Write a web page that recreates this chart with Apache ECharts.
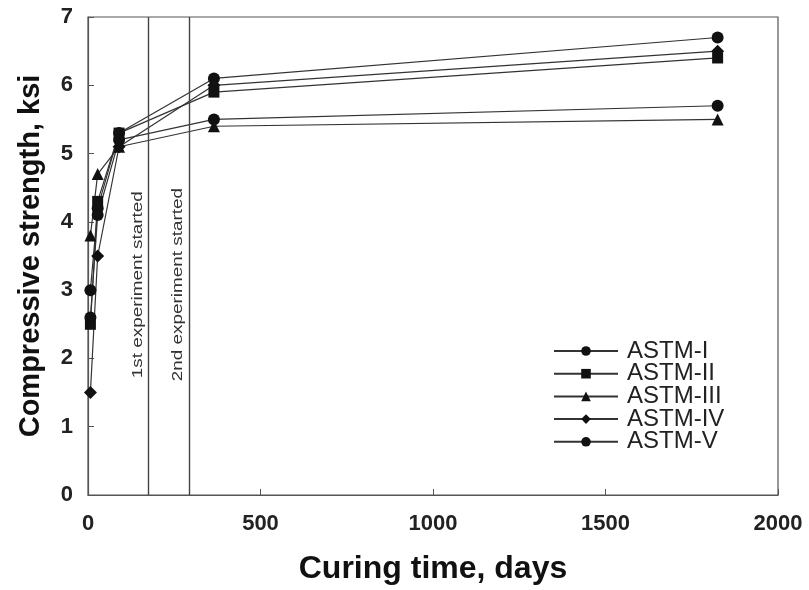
<!DOCTYPE html>
<html>
<head>
<meta charset="utf-8">
<script src="https://cdn.jsdelivr.net/npm/echarts@6/dist/echarts.min.js"></script>
<style>
html,body{margin:0;padding:0;background:#fff;}
#chart{width:809px;height:590px;}
</style>
</head>
<body>
<div id="chart"></div>
<script>
// Curing ages (days) and compressive strength (ksi) per cement type
var days = [7, 28, 90, 365, 1825];
var astmI   = [3.0, 4.2, 5.3, 6.1, 6.7];
var astmII  = [2.5, 4.3, 5.3, 5.9, 6.4];
var astmIII = [3.8, 4.7, 5.1, 5.4, 5.5];
var astmIV  = [1.5, 3.5, 5.1, 6.0, 6.5];
var astmV   = [2.6, 4.1, 5.2, 5.5, 5.7];
var seriesNames = ['ASTM-I', 'ASTM-II', 'ASTM-III', 'ASTM-IV', 'ASTM-V'];
var seriesValues = [astmI, astmII, astmIII, astmIV, astmV];
var seriesSymbols = ['circle', 'rect', 'triangle', 'diamond', 'circle'];
var seriesSizes = [12, 11, 12, 13, 12];

// Experiment start markers (days)
var experimentDays = [176, 293];
var experimentLabels = ['1st experiment started', '2nd experiment started'];

var chart = echarts.init(document.getElementById('chart'));

var series = seriesNames.map(function (name, i) {
  return {
    name: name,
    type: 'line',
    data: days.map(function (d, j) { return [d, seriesValues[i][j]]; }),
    symbol: seriesSymbols[i],
    symbolSize: seriesSizes[i],
    itemStyle: { color: '#111' },
    lineStyle: { color: '#333', width: 1.2 },
    z: 3
  };
});

series.push({
  type: 'line',
  data: [],
  silent: true,
  markLine: {
    symbol: 'none',
    silent: true,
    lineStyle: { color: '#444', width: 1.4, type: 'solid' },
    label: { show: false },
    data: experimentDays.map(function (d) { return { xAxis: d }; })
  }
});

var tickFont = { fontFamily: 'Liberation Sans', fontWeight: 'bold', fontSize: 22, color: '#222' };

chart.setOption({
  animation: false,
  backgroundColor: '#fff',
  grid: {
    left: 88, right: 31, top: 17, bottom: 93,
    show: true, borderColor: '#555', borderWidth: 1.2, backgroundColor: 'transparent'
  },
  xAxis: {
    type: 'value', min: 0, max: 2000, interval: 500,
    name: 'Curing time, days', nameLocation: 'middle', nameGap: 58,
    nameTextStyle: { fontFamily: 'Liberation Sans', fontWeight: 'bold', fontSize: 32, color: '#111' },
    axisLine: { show: true, onZero: false, lineStyle: { color: '#555', width: 1.2 } },
    axisTick: { show: true, inside: true, length: 6, lineStyle: { color: '#555' } },
    axisLabel: Object.assign({ margin: 18, formatter: function (v) { return String(v); } }, tickFont),
    splitLine: { show: false }
  },
  yAxis: {
    type: 'value', min: 0, max: 7, interval: 1,
    name: 'Compressive strength, ksi', nameLocation: 'middle', nameGap: 43,
    nameTextStyle: { fontFamily: 'Liberation Sans', fontWeight: 'bold', fontSize: 29, color: '#111' },
    axisLine: { show: true, lineStyle: { color: '#555', width: 1.2 } },
    axisTick: { show: true, inside: true, length: 6, lineStyle: { color: '#555' } },
    axisLabel: Object.assign({ margin: 15 }, tickFont),
    splitLine: { show: false }
  },
  legend: {
    orient: 'vertical',
    left: 548, top: 334,
    itemWidth: 64, itemHeight: 12, itemGap: -1.3,
    textStyle: { fontFamily: 'Liberation Sans', fontSize: 24, lineHeight: 22.5, color: '#222', padding: [0, 0, 0, 4] },
    data: seriesNames
  },
  series: series
});

// Rotated notes beside each experiment line
var notes = experimentDays.map(function (d, i) {
  var p = chart.convertToPixel({ gridIndex: 0 }, [d, 3.08]);
  return {
    type: 'text',
    x: p[0] - 11, y: p[1],
    rotation: Math.PI / 2,
    scaleX: 1.35,
    style: {
      text: experimentLabels[i],
      fontFamily: 'Liberation Sans', fontSize: 14, fill: '#333',
      textAlign: 'center', textVerticalAlign: 'middle'
    },
    z: 10
  };
});
chart.setOption({ graphic: notes });
</script>
</body>
</html>
